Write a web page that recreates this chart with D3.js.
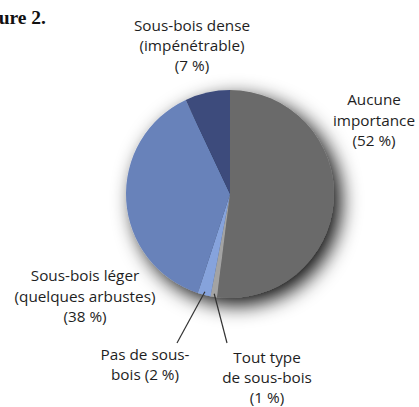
<!DOCTYPE html>
<html><head><meta charset="utf-8">
<script src="https://cdn.jsdelivr.net/npm/d3@7"></script>
<style>html,body{margin:0;padding:0;background:#fff;}svg{display:block;}</style>
</head><body>
<script>
// ---- data ----
const categories = ["Aucune importance", "Tout type de sous-bois", "Pas de sous-bois", "Sous-bois léger (quelques arbustes)", "Sous-bois dense (impénétrable)"];
const values = [52, 1, 2, 38, 7];
const labelLines = [
  ["Aucune", "importance", "(52 %)"],
  ["Tout type", "de sous-bois", "(1 %)"],
  ["Pas de sous-", "bois (2 %)"],
  ["Sous-bois léger", "(quelques arbustes)", "(38 %)"],
  ["Sous-bois dense", "(impénétrable)", "(7 %)"]
];
const colors = ["#6b6b6b", "#a3a3a3", "#86a3dc", "#6882ba", "#3c4b7b"];
const title = "Figure 2.";

// ---- layout ----
const W = 419, H = 407;
const cx = 230, cy = 194, R = 104;
const labelPos = [
  {x: 374, y: 105, lh: 20.5},
  {x: 267, y: 363, lh: 20},
  {x: 145, y: 360, lh: 20},
  {x: 85,  y: 281, lh: 20.5},
  {x: 192, y: 31,  lh: 20}
];
const leaders = [null, {x2: 227, y2: 343}, {x2: 177, y2: 343}, null, null];

const svg = d3.select("body").append("svg").attr("width", W).attr("height", H);
const defs = svg.append("defs");
const f = defs.append("filter").attr("id", "sh").attr("x", "-40%").attr("y", "-40%").attr("width", "180%").attr("height", "180%");
f.append("feDropShadow").attr("dx", 7).attr("dy", 7).attr("stdDeviation", 10).attr("flood-color", "#000").attr("flood-opacity", 0.95);

svg.append("text").attr("x", 46).attr("y", 24).attr("text-anchor", "end")
  .attr("font-family", "Liberation Serif, serif").attr("font-weight", "bold").attr("font-size", 19.5)
  .attr("fill", "#111").text(title);

const pie = d3.pie().sort(null).value(d => d)(values);
const arc = d3.arc().innerRadius(0).outerRadius(R);
const g = svg.append("g").attr("transform", `translate(${cx},${cy})`);
g.append("g").attr("filter", "url(#sh)")
  .selectAll("path").data(pie).join("path")
  .attr("d", arc).attr("fill", (d, i) => colors[i]);

// leader lines
const edge = d3.arc().innerRadius(R - 3).outerRadius(R - 3);
pie.forEach((d, i) => {
  const L = leaders[i];
  if (!L) return;
  const [x, y] = edge.centroid(d);
  svg.append("line").attr("x1", cx + x).attr("y1", cy + y).attr("x2", L.x2).attr("y2", L.y2)
    .attr("stroke", "#333").attr("stroke-width", 1.2);
});

labelLines.forEach((lines, i) => {
  const p = labelPos[i];
  const t = svg.append("text").attr("text-anchor", "middle")
    .attr("font-family", "Open Sans, sans-serif").attr("font-size", 15.3).attr("fill", "#1e1e1e");
  lines.forEach((s, k) => t.append("tspan").attr("x", p.x).attr("y", p.y + k * p.lh).text(s));
});
</script>
</body></html>
